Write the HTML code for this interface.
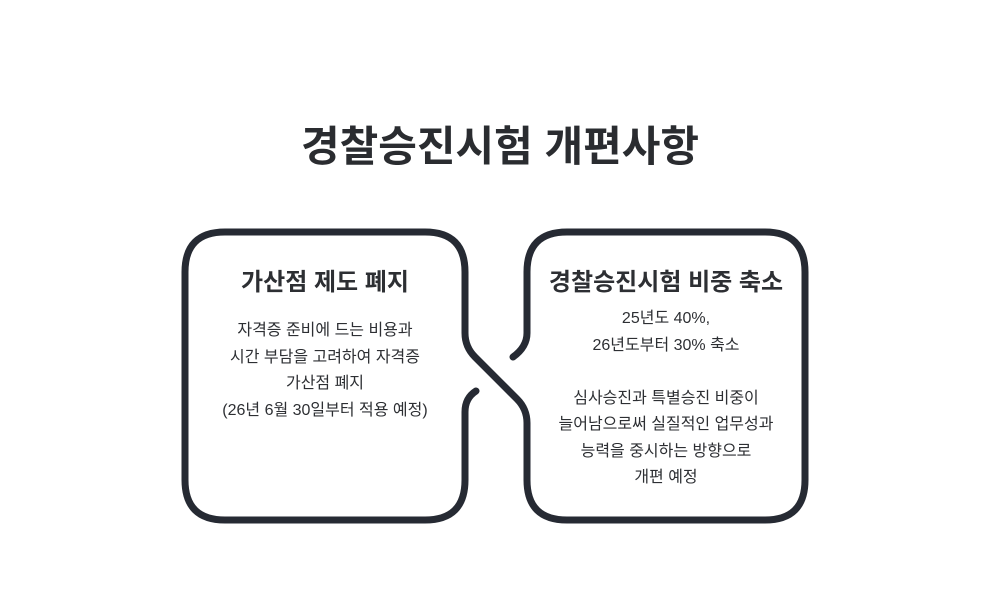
<!DOCTYPE html>
<html><head><meta charset="utf-8"><style>
html,body{margin:0;padding:0;background:#fff;}
body{width:1000px;height:612px;position:relative;overflow:hidden;font-family:"Liberation Sans","Noto Sans CJK KR",sans-serif;color:#2d2f33;}
.t{position:absolute;text-align:center;white-space:nowrap;}
</style></head><body>
<svg width="1000" height="612" style="position:absolute;left:0;top:0">
<path d="M476,391 Q465,398 465,412 L465,480 Q465,520 425,520 L225,520 Q185,520 185,480 L185,272 Q185,232 225,232 L425,232 Q465,232 465,272 L465,333 Q465,347 475,357 L517,399 Q527,409 527,423 L527,480 Q527,520 567,520 L765,520 Q805,520 805,480 L805,272 Q805,232 765,232 L567,232 Q527,232 527,272 L527,333 Q527,347 513,357" fill="none" stroke="#262a33" stroke-width="7" stroke-linecap="round" stroke-linejoin="round"/>
</svg>
<div class="t" style="left:0;width:1000px;top:113px;font-size:42px;font-weight:bold;color:#2a2c30;">경찰승진시험 개편사항</div>
<div class="t" style="left:185px;width:280px;top:262px;font-size:24px;font-weight:bold;">가산점 제도 폐지</div>
<div class="t" style="left:185px;width:280px;top:318px;font-size:16px;line-height:26.5px;">자격증 준비에 드는 비용과<br>시간 부담을 고려하여 자격증<br>가산점 폐지<br>(26년 6월 30일부터 적용 예정)</div>
<div class="t" style="left:527px;width:278px;top:262px;font-size:24px;font-weight:bold;">경찰승진시험 비중 축소</div>
<div class="t" style="left:527px;width:278px;top:306px;font-size:16px;line-height:26.5px;">25년도 40%,<br>26년도부터 30% 축소<br><br>심사승진과 특별승진 비중이<br>늘어남으로써 실질적인 업무성과<br>능력을 중시하는 방향으로<br>개편 예정</div>
</body></html>
